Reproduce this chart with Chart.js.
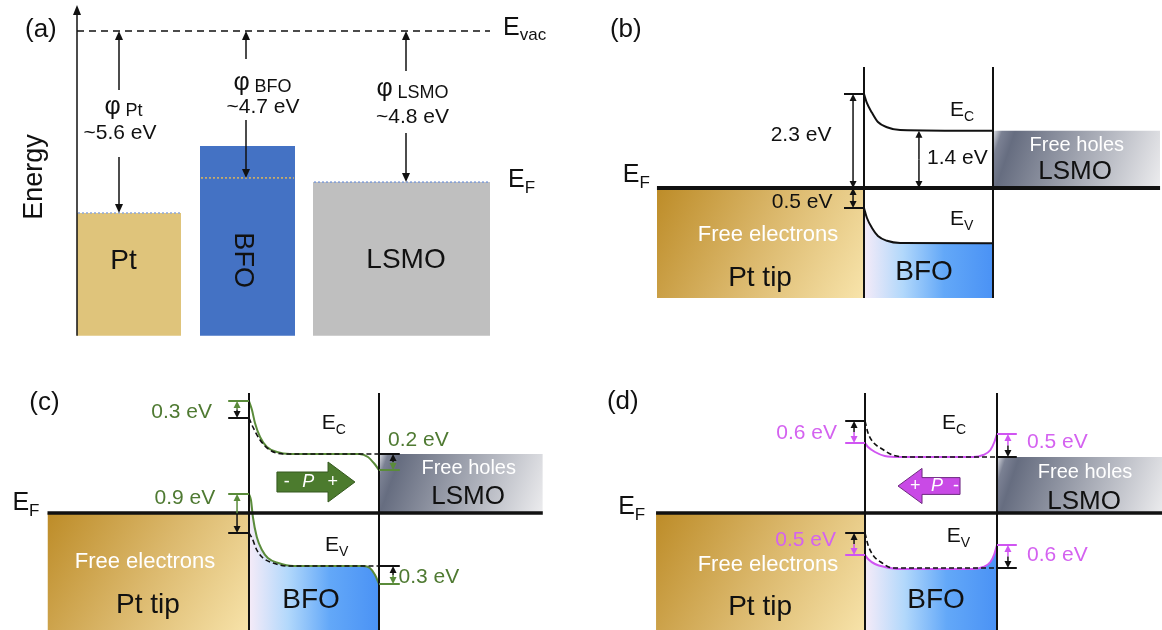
<!DOCTYPE html>
<html>
<head>
<meta charset="utf-8">
<script src="https://cdn.jsdelivr.net/npm/chart.js"></script>
<style>
  body { margin: 0; background: #fff; width: 1162px; height: 630px; position: relative; overflow: hidden; }
  canvas { position: absolute; }
</style>
</head>
<body>
<canvas id="pa" width="580" height="345" style="left:0;top:0"></canvas>
<canvas id="pb" width="582" height="315" style="left:580px;top:0"></canvas>
<canvas id="pc" width="580" height="250" style="left:0;top:380px"></canvas>
<canvas id="pd" width="582" height="250" style="left:580px;top:380px"></canvas>
<script>
const FONT = "'Liberation Sans', Arial, Helvetica, sans-serif";

// ---- (a) flat levels, eV relative to E_vac (as sketched) ----
const materials = ['Pt', 'BFO', 'LSMO'];
const workFunctionText = ['~5.6 eV', '~4.7 eV', '~4.8 eV'];
const vacuumLevel = 0;
const fermiLevel = [-5.6, -4.52, -4.65];
const blockTop = [-5.6, -3.54, -4.65];
const blockBottom = -9.38;

// ---- (b) equilibrium bands in BFO, eV relative to E_F; x across the film (0 = Pt side, 10 = LSMO side) ----
const bX = [0, 0.23, 0.62, 1.08, 1.78, 2.8, 10];
const bEc = [2.35, 2.12, 1.88, 1.65, 1.52, 1.45, 1.43];
const bEv = [-0.5, -0.75, -1.0, -1.2, -1.32, -1.375, -1.38];
const bOffsets = ['2.3 eV', '0.5 eV', '1.4 eV'];

// ---- (c) polarization pointing to LSMO (green) vs. reference (dashed) ----
const cEcX = [0, 0.23, 0.46, 0.85, 1.38, 2.15, 3.15, 8.5, 9.15, 9.6, 10];
const cEc = [2.8, 2.575, 2.25, 1.9, 1.65, 1.525, 1.475, 1.475, 1.4, 1.25, 1.075];
const cEvX = [0, 0.15, 0.3, 0.6, 1.0, 1.45, 2.25, 3.4, 8.75, 9.3, 9.7, 10];
const cEv = [0.475, 0.325, -0.1, -0.6, -0.925, -1.125, -1.25, -1.325, -1.325, -1.375, -1.55, -1.775];
const cRefEcX = [0, 0.3, 0.85, 1.6, 2.9, 10];
const cRefEc = [2.375, 2.15, 1.825, 1.575, 1.475, 1.475];
const cRefEvX = [0, 0.23, 0.6, 1.08, 1.85, 2.9, 10];
const cRefEv = [-0.5, -0.625, -0.925, -1.125, -1.25, -1.325, -1.325];
const cOffsets = ['0.3 eV', '0.9 eV', '0.2 eV', '0.3 eV'];

// ---- (d) polarization pointing to Pt (magenta) vs. reference (dashed) ----
const dX = [0, 0.23, 0.76, 1.5, 2.65, 8.2, 8.95, 9.5, 9.8, 10];
const dEc = [1.75, 1.65, 1.525, 1.425, 1.4, 1.4, 1.45, 1.575, 1.775, 1.975];
const dEv = [-1.05, -1.15, -1.275, -1.35, -1.4, -1.4, -1.35, -1.225, -1.025, -0.8];
const dRefX = [0, 0.23, 0.6, 1.3, 2.1, 3.2, 10];
const dRefEc = [2.3, 2.0, 1.775, 1.6, 1.45, 1.4, 1.4];
const dRefEv = [-0.5, -0.8, -1.05, -1.25, -1.375, -1.375, -1.375];
const dOffsets = ['0.6 eV', '0.5 eV', '0.5 eV', '0.6 eV'];

// colours
const GREEN = '#5a8b3a', GREEN_TXT = '#4f7a32';
const MAG = '#d055f2', MAG_TXT = '#d462f0';
const INK = '#111';
const ptStops = [[0, '#bd8c28'], [0.5, '#dbb86c'], [1, '#f8e4ab']];
const bfoStops = [[0, '#f5ebf8'], [0.3, '#b2d8fb'], [0.62, '#63a8f8'], [1, '#4a92f5']];
const lsmoStops = [[0, '#dfe1e6'], [0.05, '#7b8193'], [0.12, '#666d80'], [1, '#ececee']];

// ---- helpers ----
const pts = (xs, ys) => xs.map((x, i) => ({ x, y: ys[i] }));
const seg = (x0, y0, x1, y1) => [{ x: x0, y: y0 }, { x: x1, y: y1 }];
const last = a => a[a.length - 1];
const px = (chart, x, y) => [chart.scales.x.getPixelForValue(x), chart.scales.y.getPixelForValue(y)];

function gradient(x0, y0, x1, y1, stops) {
  return c => {
    const chart = c.chart;
    if (!chart.chartArea) return last(stops)[1];
    const [a, b] = px(chart, x0, y0), [e, f] = px(chart, x1, y1);
    const g = chart.ctx.createLinearGradient(a, b, e, f);
    stops.forEach(s => g.addColorStop(s[0], s[1]));
    return g;
  };
}
function area(data, bottom, bg, extra) {
  return Object.assign({ data, fill: { value: bottom }, backgroundColor: bg, borderWidth: 0,
    borderColor: 'rgba(0,0,0,0)', pointRadius: 0, tension: 0, order: 20 }, extra);
}
function line(data, color, width, extra) {
  return Object.assign({ data, fill: false, borderColor: color, borderWidth: width,
    pointRadius: 0, tension: 0, order: 2 }, extra);
}
const smooth = { cubicInterpolationMode: 'monotone' };

function head(ctx, x, y, ang, len, half) {
  ctx.save(); ctx.translate(x, y); ctx.rotate(ang);
  ctx.beginPath(); ctx.moveTo(0, 0); ctx.lineTo(-len, -half); ctx.lineTo(-len, half); ctx.closePath(); ctx.fill();
  ctx.restore();
}
function arrow(chart, x0, y0, x1, y1, o = {}) {
  const ctx = chart.ctx;
  const [a, b] = px(chart, x0, y0), [e, f] = px(chart, x1, y1);
  const ang = Math.atan2(f - b, e - a), len = o.len || 8, half = o.half || 3.5;
  const d = Math.hypot(e - a, f - b), cut = Math.min(len * 0.8, d);
  ctx.save();
  ctx.strokeStyle = ctx.fillStyle = o.color || INK;
  ctx.lineWidth = o.width || 1.5;
  ctx.beginPath(); ctx.moveTo(a, b); ctx.lineTo(e - Math.cos(ang) * cut, f - Math.sin(ang) * cut); ctx.stroke();
  head(ctx, e, f, ang, Math.min(len, d), half);
  ctx.restore();
}
function hline(chart, x0, x1, y, color, width) {
  const ctx = chart.ctx;
  const [a, b] = px(chart, x0, y), [e] = px(chart, x1, y);
  ctx.save(); ctx.strokeStyle = color; ctx.lineWidth = width;
  ctx.beginPath(); ctx.moveTo(a, b); ctx.lineTo(e, b); ctx.stroke(); ctx.restore();
}
// band offset marker: ticks at both levels, arrows from the middle to each level
function offsetMarker(chart, m) {
  if (m.t0 !== undefined) { hline(chart, m.t0, m.t1, m.a, m.ca, 2); hline(chart, m.t0, m.t1, m.b, m.cb, 2); }
  const mid = (m.a + m.b) / 2;
  arrow(chart, m.x, mid, m.x, m.a, { color: m.ca, len: 7, half: 3.5 });
  arrow(chart, m.x, mid, m.x, m.b, { color: m.cb, len: 7, half: 3.5 });
}
function blockArrow(chart, b) {
  const ctx = chart.ctx;
  const v = [[b.tail, b.y + b.body], [b.base, b.y + b.body], [b.base, b.y + b.head], [b.tip, b.y],
    [b.base, b.y - b.head], [b.base, b.y - b.body], [b.tail, b.y - b.body]].map(p => px(chart, p[0], p[1]));
  ctx.save(); ctx.beginPath();
  v.forEach((p, i) => i ? ctx.lineTo(p[0], p[1]) : ctx.moveTo(p[0], p[1]));
  ctx.closePath(); ctx.fillStyle = b.fill; ctx.fill();
  ctx.strokeStyle = b.stroke; ctx.lineWidth = 1; ctx.stroke(); ctx.restore();
  b.signs.forEach(s => write(chart, s[0], b.y, [[s[1], 18, 0, s[1] === 'P']], { align: 'center', color: '#fff' }));
}
function write(chart, x, y, parts, o = {}) {
  const ctx = chart.ctx;
  const [X, Y] = px(chart, x, y);
  ctx.save(); ctx.translate(X, Y);
  if (o.rot) ctx.rotate(o.rot);
  ctx.fillStyle = o.color || INK; ctx.textBaseline = 'middle'; ctx.textAlign = 'left';
  const fonts = parts.map(p => (p[3] ? 'italic ' : '') + p[1] + 'px ' + FONT);
  const w = parts.map((p, i) => { ctx.font = fonts[i]; return ctx.measureText(p[0]).width; });
  const total = w.reduce((s, v) => s + v, 0);
  let cx = o.align === 'center' ? -total / 2 : o.align === 'right' ? -total : 0;
  parts.forEach((p, i) => { ctx.font = fonts[i]; ctx.fillText(p[0], cx, p[2] || 0); cx += w[i]; });
  ctx.restore();
}
const T = (s, size) => [[s, size, 0]];
const E = (s, size) => [['E', size, 0], [s, Math.round(size * 0.68), size * 0.32]];

function panel(id, box, datasets, draw) {
  return new Chart(document.getElementById(id), {
    type: 'line',
    data: { datasets },
    options: {
      responsive: false, animation: false, events: [],
      layout: { padding: 0 },
      plugins: { legend: { display: false }, tooltip: { enabled: false } },
      scales: {
        x: { type: 'linear', min: box.x[0], max: box.x[1], display: false },
        y: { type: 'linear', min: box.y[0], max: box.y[1], display: false }
      }
    },
    plugins: [{ id: 'sketch', afterDatasetsDraw: draw }]
  });
}

// ---------- (a) ----------
const aBox = { x: [0, 58], y: [-9.6615, 0.9538] };
const aFrom = [7.7, 20.0, 31.3], aTo = [18.1, 29.5, 49.0];
const aColors = ['#dfc47b', '#4472c4', '#bfbfbf'];
const aDots = ['#8ea8da', '#dcb65c', '#7f9dd8'];
const aArrowX = [11.9, 24.6, 40.6], aGapTop = [-1.815, -0.86, -1.23], aGapBottom = [-3.88, -2.74, -3.14];
const aPhiX = [12.35, 26.25, 41.25], aPhiY = [-2.34, -1.6, -1.78];
const aWfX = [12.0, 26.3, 41.25], aWfY = [-3.14, -2.34, -2.65];

const aSets = [];
materials.forEach((m, i) => {
  aSets.push(area(seg(aFrom[i], blockTop[i], aTo[i], blockTop[i]), blockBottom, aColors[i]));
  aSets.push(line(seg(aFrom[i] + 0.1, fermiLevel[i], aTo[i] - 0.1, fermiLevel[i]), aDots[i], 1.5, { borderDash: [2, 2] }));
});
aSets.push(line(seg(aFrom[0], vacuumLevel, last(aTo), vacuumLevel), INK, 1.5, { borderDash: [7, 5] }));

panel('pa', aBox, aSets, chart => {
  arrow(chart, aFrom[0], blockBottom, aFrom[0], 0.8, { len: 10, half: 4 });
  materials.forEach((m, i) => {
    arrow(chart, aArrowX[i], aGapTop[i], aArrowX[i], vacuumLevel, { len: 9, half: 4 });
    arrow(chart, aArrowX[i], aGapBottom[i], aArrowX[i], fermiLevel[i], { len: 9, half: 4 });
    write(chart, aPhiX[i], aPhiY[i], [['φ', 25, 0], [' ' + m, 18, 4]], { align: 'center' });
    write(chart, aWfX[i], aWfY[i], T(workFunctionText[i], 21), { align: 'center' });
  });
  write(chart, 2.5, 0.03, T('(a)', 26));
  write(chart, 50.3, 0.09, [['E', 25, 0], ['vac', 17, 7]]);
  write(chart, 50.8, -4.6, E('F', 25));
  write(chart, 3.5, -4.49, T('Energy', 27), { align: 'center', rot: -Math.PI / 2 });
  write(chart, 12.35, -7.1, T(materials[0], 28), { align: 'center' });
  write(chart, 24.2, -7.05, T(materials[1], 27), { align: 'center', rot: Math.PI / 2 });
  write(chart, 40.6, -7.05, T(materials[2], 28), { align: 'center' });
});

// ---------- (b)-(d) band diagrams ----------
function bandPanel(c) {
  const sets = [
    area(seg(c.ptFrom, 0, 0, 0), c.bottom, gradient(c.ptFrom, 0, 0, c.bottom, ptStops)),
    area(seg(10, c.lsmoTop, c.right, c.lsmoTop), 0, gradient(10, c.lsmoTop, c.right, 0, lsmoStops)),
    area(c.fillCurve, c.bottom, gradient(0, 0, 10, 0, bfoStops), Object.assign({ order: 15 }, smooth)),
    ...c.curves,
    line(seg(0, c.wallTop, 0, c.bottom), INK, 2, { order: 1 }),
    line(seg(10, c.wallTop, 10, c.bottom), INK, 2, { order: 1 }),
    line(seg(c.ptFrom, 0, c.right, 0), INK, c.efWidth, { order: 0 })
  ];
  panel(c.id, c.box, sets, chart => {
    c.markers.forEach(m => offsetMarker(chart, m));
    if (c.block) blockArrow(chart, c.block);
    c.labels.forEach(l => write(chart, l[0], l[1], l[2], { align: l[3], color: l[4] }));
  });
}

bandPanel({
  id: 'pb', box: { x: [-22.016, 23.101], y: [-3.175, 4.7] },
  ptFrom: -16.05, right: 22.95, wallTop: 3.025, bottom: -2.75, efWidth: 4,
  lsmoTop: last(bEc), fillCurve: pts(bX, bEv),
  curves: [line(pts(bX, bEc), INK, 2, smooth), line(pts(bX, bEv), INK, 2, smooth)],
  markers: [
    { x: -0.85, t0: -1.55, t1: 0, a: bEc[0], ca: INK, b: 0, cb: INK },
    { x: -0.85, t0: -1.55, t1: 0, a: 0, ca: INK, b: bEv[0], cb: INK },
    { x: 4.26, a: last(bEc), ca: INK, b: 0, cb: INK }
  ],
  labels: [
    [-19.7, 3.95, T('(b)', 26)],
    [-18.7, 0.325, E('F', 25)],
    [-4.88, 1.325, T(bOffsets[0], 21), 'center'],
    [-4.8, -0.35, T(bOffsets[1], 21), 'center'],
    [4.88, 0.75, T(bOffsets[2], 21)],
    [6.67, 1.95, E('C', 21)],
    [6.67, -0.78, E('V', 21)],
    [-7.44, -1.175, T('Free electrons', 22), 'center', '#fff'],
    [-8.06, -2.25, T('Pt tip', 28), 'center'],
    [4.65, -2.1, T('BFO', 28), 'center'],
    [16.5, 1.075, T('Free holes', 20), 'center', '#fff'],
    [16.36, 0.4, T('LSMO', 26), 'center']
  ]
});

bandPanel({
  id: 'pc', box: { x: [-19.154, 25.462], y: [-2.925, 3.325] },
  ptFrom: -15.5, right: 22.6, wallTop: 3.0, bottom: -3.1, efWidth: 3.5,
  lsmoTop: last(cRefEc), fillCurve: pts(cEvX, cEv),
  curves: [
    line(pts(cEcX, cEc), GREEN, 2, Object.assign({ order: 4 }, smooth)),
    line(pts(cEvX, cEv), GREEN, 2, Object.assign({ order: 4 }, smooth)),
    line(pts(cRefEcX, cRefEc), INK, 1.6, Object.assign({ order: 3, borderDash: [5, 3] }, smooth)),
    line(pts(cRefEvX, cRefEv), INK, 1.6, Object.assign({ order: 3, borderDash: [5, 3] }, smooth))
  ],
  markers: [
    { x: -0.92, t0: -1.6, t1: 0, a: cEc[0], ca: GREEN, b: cRefEc[0], cb: INK },
    { x: -0.92, t0: -1.6, t1: 0, a: cEv[0], ca: GREEN, b: cRefEv[0], cb: INK },
    { x: 11.08, t0: 10, t1: 11.6, a: last(cRefEc), ca: INK, b: last(cEc), cb: GREEN },
    { x: 11.08, t0: 10, t1: 11.6, a: last(cRefEv), ca: INK, b: last(cEv), cb: GREEN }
  ],
  block: { tail: 2.15, base: 6.08, tip: 8.15, y: 0.775, body: 0.25, head: 0.5, fill: '#4c7b2e', stroke: '#35581f',
    signs: [[2.9, '-'], [4.55, 'P'], [6.45, '+']] },
  labels: [
    [-16.9, 2.75, T('(c)', 26)],
    [-18.2, 0.25, E('F', 25)],
    [-2.85, 2.525, T(cOffsets[0], 21), 'right', GREEN_TXT],
    [-2.6, 0.375, T(cOffsets[1], 21), 'right', GREEN_TXT],
    [10.7, 1.825, T(cOffsets[2], 21), 'left', GREEN_TXT],
    [11.5, -1.6, T(cOffsets[3], 21), 'left', GREEN_TXT],
    [5.6, 2.25, E('C', 21)],
    [5.85, -0.8, E('V', 21)],
    [16.9, 1.125, T('Free holes', 20), 'center', '#fff'],
    [16.85, 0.4, T('LSMO', 26), 'center'],
    [-8, -1.225, T('Free electrons', 22), 'center', '#fff'],
    [-7.77, -2.3, T('Pt tip', 28), 'center'],
    [4.77, -2.175, T('BFO', 28), 'center']
  ]
});

bandPanel({
  id: 'pd', box: { x: [-21.591, 22.5], y: [-2.925, 3.325] },
  ptFrom: -15.83, right: 22.6, wallTop: 3.0, bottom: -3.1, efWidth: 3.5,
  lsmoTop: last(dRefEc), fillCurve: pts(dX, dEv),
  curves: [
    line(pts(dX, dEc), MAG, 2, Object.assign({ order: 4 }, smooth)),
    line(pts(dX, dEv), MAG, 2, Object.assign({ order: 4 }, smooth)),
    line(pts(dRefX, dRefEc), INK, 1.6, Object.assign({ order: 3, borderDash: [5, 3] }, smooth)),
    line(pts(dRefX, dRefEv), INK, 1.6, Object.assign({ order: 3, borderDash: [5, 3] }, smooth))
  ],
  markers: [
    { x: -0.83, t0: -1.5, t1: 0, a: dRefEc[0], ca: INK, b: dEc[0], cb: MAG },
    { x: -0.83, t0: -1.5, t1: 0, a: dRefEv[0], ca: INK, b: dEv[0], cb: MAG },
    { x: 10.83, t0: 10, t1: 11.5, a: last(dEc), ca: MAG, b: last(dRefEc), cb: INK },
    { x: 10.83, t0: 10, t1: 11.5, a: last(dEv), ca: MAG, b: last(dRefEv), cb: INK }
  ],
  block: { tail: 7.2, base: 4.32, tip: 2.5, y: 0.675, body: 0.21, head: 0.44, fill: '#c94ae6', stroke: '#6e2a80',
    signs: [[3.8, '+'], [5.45, 'P'], [6.9, '-']] },
  labels: [
    [-19.55, 2.775, T('(d)', 26)],
    [-18.7, 0.15, E('F', 25)],
    [-2.12, 2.0, T(dOffsets[0], 21), 'right', MAG_TXT],
    [12.27, 1.775, T(dOffsets[1], 21), 'left', MAG_TXT],
    [-2.2, -0.675, T(dOffsets[2], 21), 'right', MAG_TXT],
    [12.27, -1.05, T(dOffsets[3], 21), 'left', MAG_TXT],
    [5.83, 2.25, E('C', 21)],
    [6.2, -0.575, E('V', 21)],
    [16.67, 1.025, T('Free holes', 20), 'center', '#fff'],
    [16.6, 0.275, T('LSMO', 26), 'center'],
    [-7.35, -1.3, T('Free electrons', 22), 'center', '#fff'],
    [-7.95, -2.35, T('Pt tip', 28), 'center'],
    [5.38, -2.175, T('BFO', 28), 'center']
  ]
});
</script>
</body>
</html>
